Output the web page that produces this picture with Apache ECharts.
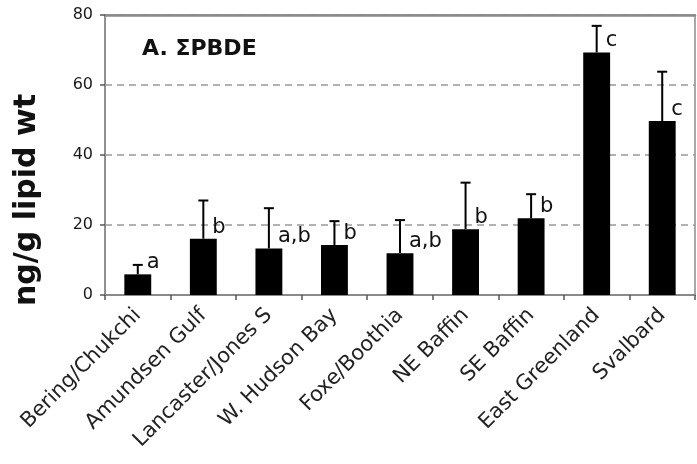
<!DOCTYPE html>
<html>
<head>
<meta charset="utf-8">
<script src="https://cdn.jsdelivr.net/npm/echarts@6/dist/echarts.min.js"></script>
<style>
  html, body { margin: 0; padding: 0; background: #fff; }
  #chart { width: 697px; height: 464px; }
</style>
</head>
<body>
<div id="chart"></div>
<script>
// regions along the x axis
const regions = ['Bering/Chukchi', 'Amundsen Gulf', 'Lancaster/Jones S', 'W. Hudson Bay', 'Foxe/Boothia', 'NE Baffin', 'SE Baffin', 'East Greenland', 'Svalbard'];
// mean PBDE, ng/g lipid wt
const means = [5.9, 16.1, 13.3, 14.3, 11.9, 18.8, 21.9, 69.3, 49.7];
// upper error (mean + sd)
const errorTops = [8.6, 27.0, 24.8, 21.1, 21.4, 32.1, 28.8, 76.9, 63.8];
// significance letters
const letters = ['a', 'b', 'a,b', 'b', 'a,b', 'b', 'b', 'c', 'c'];
const yTicks = [0, 20, 40, 60, 80];

const font = 'DejaVu Sans';
const axisGray = '#8a8a8a';

const errData = means.map((m, i) => [i, m, errorTops[i]]);

const option = {
  animation: false,
  title: {
    text: 'A. \u03A3PBDE',
    left: 137,
    top: 33,
    textStyle: { fontFamily: font, fontWeight: 'bold', fontSize: 22, color: '#111' }
  },
  grid: {
    left: 105, right: 2, top: 15, bottom: 169,
    show: true, borderColor: axisGray, borderWidth: 1.5
  },
  graphic: [{
    type: 'text',
    x: 27, y: 200,
    rotation: Math.PI / 2,
    style: {
      text: 'ng/g lipid wt',
      font: 'bold 30px "DejaVu Sans"',
      fill: '#111',
      textAlign: 'center',
      textVerticalAlign: 'middle'
    }
  }],
  xAxis: [{
    type: 'category',
    data: regions,
    boundaryGap: true,
    axisLine: { lineStyle: { color: axisGray, width: 2 } },
    axisTick: { show: true, alignWithLabel: false, length: 5, lineStyle: { color: '#555', width: 1.5 } },
    axisLabel: {
      interval: 0, rotate: 45, margin: 17,
      fontFamily: font, fontSize: 21, color: '#222'
    }
  }, {
    type: 'category',
    data: regions,
    position: 'top',
    axisLine: { show: true, lineStyle: { color: axisGray, width: 2.5 } },
    axisTick: { show: false },
    axisLabel: { show: false }
  }],
  yAxis: {
    type: 'value',
    min: yTicks[0], max: yTicks[yTicks.length - 1], interval: 20,
    axisLine: { show: true, lineStyle: { color: axisGray, width: 1.5 } },
    axisTick: { show: true, length: 5, lineStyle: { color: '#555', width: 1.5 } },
    axisLabel: { margin: 12, fontFamily: font, fontSize: 16, color: '#1a1a1a' },
    splitLine: { show: true, lineStyle: { color: '#999', width: 1.5, type: [7, 5] } }
  },
  series: [
    {
      type: 'bar',
      data: means,
      barWidth: '41%',
      itemStyle: { color: '#000' },
      z: 2
    },
    {
      type: 'custom',
      data: errData,
      z: 3,
      renderItem: function (params, api) {
        const base = api.coord([api.value(0), api.value(1)]);
        const top = api.coord([api.value(0), api.value(2)]);
        const lineStyle = { stroke: '#000', lineWidth: 2 };
        return {
          type: 'group',
          children: [
            { type: 'line', shape: { x1: base[0], y1: base[1], x2: top[0], y2: top[1] }, style: lineStyle },
            { type: 'line', shape: { x1: top[0] - 5, y1: top[1], x2: top[0] + 5, y2: top[1] }, style: lineStyle },
            {
              type: 'text',
              x: base[0] + 9, y: base[1] - 1,
              style: {
                text: letters[params.dataIndex],
                font: '21px "DejaVu Sans"',
                fill: '#111',
                textAlign: 'left',
                textVerticalAlign: 'bottom'
              }
            }
          ]
        };
      }
    }
  ]
};

const chart = echarts.init(document.getElementById('chart'));
chart.setOption(option);
</script>
</body>
</html>
